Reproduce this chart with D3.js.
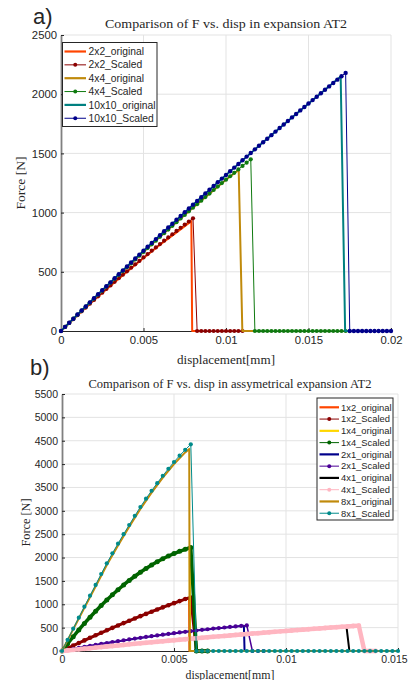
<!DOCTYPE html>
<html>
<head>
<meta charset="utf-8">
<script src="https://cdnjs.cloudflare.com/ajax/libs/d3/7.8.5/d3.min.js"></script>
<style>
body { margin: 0; background: #fff; }
svg text { font-family: "Liberation Sans", Arial, sans-serif; fill: #262626; }
svg text.serif { font-family: "Liberation Serif", "DejaVu Serif", serif; }
.grid line { stroke: #e3e3e3; stroke-width: 1; }
</style>
</head>
<body>
<svg id="chart" width="409" height="680"></svg>
<script>

// ---------- panel a: symmetric expansion ----------
var stepA = 0.00025;   // scaled runs are sampled every 0.00025 mm
var xTicksA = [0, 0.005, 0.01, 0.015, 0.02];
var xLabelsA = ['0', '0.005', '0.01', '0.015', '0.02'];
var yTicksA = [0, 500, 1000, 1500, 2000, 2500];

var f2x2Scaled = [0,34,68,101,134,166,198,230,262,293,324,355,385,415,446,475,504,534,563,592,621,650,678,706,734,763,790,817,845,872,899,925,952,
  0,0,0,0,0,0,0,0,0,0,0,0];
var f4x4Scaled = [0,35,69,104,138,172,206,240,274,308,341,375,408,441,474,506,539,571,604,636,668,700,732,763,795,826,857,888,919,950,980,1011,1041,1071,1101,1131,1161,1191,1220,1249,1278,1307,1336,1365,1394,1422,1450,
  0,0,0,0,0,0,0,0,0,0,0,0,0,0,0,0,0,0,0,0,0,0,0];
var f10x10Scaled = [0,35,70,104,139,173,207,242,276,310,344,378,411,445,479,512,545,579,612,645,678,711,744,776,809,842,874,906,939,971,1003,1035,1067,1098,1130,1162,1193,1225,1256,1287,1318,1349,1380,1411,1442,1473,1503,1534,1564,1594,1624,1654,1684,1714,1744,1774,1804,1833,1863,1892,1921,1950,1979,2008,2037,2066,2095,2123,2152,2180,
  0,0,0,0,0,0,0,0,0,0,0];

// originals: [disp, force]
var o2x2 = [[0,0],[0.001,132],[0.002,260],[0.003,382],[0.004,500],[0.005,616],[0.006,728],[0.007,833],[0.0079,928],[0.00795,0],[0.0085,0]];
var o4x4 = [[0,0],[0.002,274],[0.004,539],[0.006,795],[0.008,1041],[0.010,1278],[0.01077,1360],[0.01099,0],[0.0118,0]];
var o10x10 = [[0,0],[0.002,276],[0.004,545],[0.006,809],[0.008,1067],[0.010,1318],[0.012,1564],[0.014,1804],[0.016,2037],[0.01695,2150],[0.01722,0],[0.0175,0]];

// ---------- panel b: asymmetric expansion ----------
var stepB = 0.00025;
var xTicksB = [0, 0.005, 0.01, 0.015];
var xLabelsB = ['0', '0.005', '0.01', '0.015'];
var yTicksB = [0,500,1000,1500,2000,2500,3000,3500,4000,4500,5000,5500];

var f1x2Scaled = [0,58,115,171,227,282,336,390,443,495,546,597,647,697,746,794,841,888,934,980,1024,1068,1112,1145,0,0,0];
var f1x4Scaled = [0,155,305,450,589,723,851,974,1092,1204,1311,1413,1509,1600,1686,1766,1841,1910,1974,2033,2086,2134,2177,2214,0,0,0];
var f2x1Scaled = [0,23,45,67,89,110,131,151,171,191,210,229,247,265,283,301,318,334,350,366,382,397,411,425,439,453,466,479,491,503,515,526,537,547,0,0,0];
var f4x1Scaled = [0,12,24,36,48,60,72,84,96,107,119,130,142,153,164,175,186,197,208,219,230,241,251,262,272,283,293,303,313,323,333,343,353,363,373,382,392,401,411,420,429,439,448,457,466,475,483,492,501,509,518,526,535,543,0,0,0];
var f8x1Scaled = [0,240,478,714,948,1183,1415,1648,1877,2090,2297,2500,2696,2893,3082,3260,3430,3592,3750,3900,4045,4180,4305,4423,
  0,0,0,0,0,0,0,0,0,0,0,0,0,0,0,0,0,0,0,0,0,0,0,0,0,0,0,0,0,0,0,0,0,0,0,0,0];

var o1x2 = [[0,0],[0.001,225],[0.002,440],[0.003,643],[0.004,836],[0.005,1018],[0.00567,1135],[0.00569,0],[0.015,0]];
var o1x4 = [[0,0],[0.001,586],[0.002,1088],[0.003,1505],[0.004,1836],[0.005,2080],[0.0057,2200],[0.00572,0],[0.015,0]];
var o2x1 = [[0,0],[0.002,171],[0.004,318],[0.006,439],[0.008,537],[0.00812,540],[0.00815,0],[0.015,0]];
var o4x1 = [[0,0],[0.002,96],[0.004,186],[0.006,272],[0.008,353],[0.010,429],[0.012,501],[0.0127,523],[0.01283,0],[0.015,0]];
var o8x1 = [[0,0],[0.0005,462],[0.001,925],[0.0015,1380],[0.002,1840],[0.0025,2260],[0.003,2660],[0.0035,3040],[0.004,3390],[0.0045,3710],[0.005,4000],[0.0055,4250],[0.00568,4325],[0.0057,0],[0.015,0]];

function sampled(vals, step) {
  return vals.map(function(v, i) { return [i * step, v]; });
}

var panels = [
  {
    letter: 'a)', letterX: 33, letterY: 24,
    title: 'Comparison of F vs. disp in expansion AT2', titleY: 28, titleW: 242, titleSize: 12.5,
    xr: [61, 391], yr: [331, 35], xMax: 0.02, yMax: 2500,
    xTicks: xTicksA, xLabels: xLabelsA, yTicks: yTicksA, tickSize: 11.3,
    xlabY: 364, xlabW: 98, xlabSize: 12, ylabX: 25, ylabW: 53, ylabSize: 12,
    legend: {x: 62.5, y: 42.5, w: 94.5, h: 84, row0: 51.5, dy: 13.35, size: 10.3, lx0: 64.5, lx1: 86, tx: 88.5},
    series: [
      {name: '2x2_original', color: '#ff4500', data: o2x2, w: 2},
      {name: '2x2_Scaled', color: '#8b0000', data: sampled(f2x2Scaled, stepA), w: 1, r: 2.1},
      {name: '4x4_original', color: '#c08a0b', data: o4x4, w: 2},
      {name: '4x4_Scaled', color: '#0f7a0f', data: sampled(f4x4Scaled, stepA), w: 1, r: 2.1},
      {name: '10x10_original', color: '#008080', data: o10x10, w: 2},
      {name: '10x10_Scaled', color: '#00008b', data: sampled(f10x10Scaled, stepA), w: 1, r: 2.2}
    ]
  },
  {
    letter: 'b)', letterX: 30, letterY: 375,
    title: 'Comparison of F vs. disp in assymetrical expansion AT2', titleY: 388, titleW: 283, titleSize: 12,
    xr: [62, 398], yr: [651, 394], xMax: 0.015, yMax: 5500,
    xTicks: xTicksB, xLabels: xLabelsB, yTicks: yTicksB, tickSize: 10.5,
    xlabY: 679, xlabW: 89, xlabSize: 11.5, ylabX: 30, ylabW: 48, ylabSize: 11.5,
    legend: {x: 317, y: 398, w: 76, h: 122, row0: 407.3, dy: 11.77, size: 9.4, lx0: 319.5, lx1: 339, tx: 341},
    series: [
      {name: '1x2_original', color: '#ff4500', data: o1x2, w: 2},
      {name: '1x2_Scaled', color: '#8b0000', data: sampled(f1x2Scaled, stepB), w: 3, r: 2.3, lw: 1},
      {name: '1x4_original', color: '#ffd700', data: o1x4, w: 2},
      {name: '1x4_Scaled', color: '#006400', data: sampled(f1x4Scaled, stepB), w: 3.5, r: 2.5, lw: 1},
      {name: '2x1_original', color: '#00008b', data: o2x1, w: 2},
      {name: '2x1_Scaled', color: '#4b0096', data: sampled(f2x1Scaled, stepB), w: 1.5, r: 2.1, lw: 1},
      {name: '4x1_original', color: '#000000', data: o4x1, w: 2},
      {name: '4x1_Scaled', color: '#ffb6c1', data: sampled(f4x1Scaled, stepB), w: 4.5, r: 2.4, lw: 1},
      {name: '8x1_original', color: '#c08a0b', data: o8x1, w: 2},
      {name: '8x1_Scaled', color: '#008b8b', data: sampled(f8x1Scaled, stepB), w: 1, r: 2.1, lw: 1}
    ]
  }
];

var svg = d3.select('#chart');

panels.forEach(function(p) {
  var x = d3.scaleLinear().domain([0, p.xMax]).range(p.xr);
  var y = d3.scaleLinear().domain([0, p.yMax]).range(p.yr);
  var g = svg.append('g');

  // grid
  var grid = g.append('g').attr('class', 'grid');
  grid.selectAll('.gx').data(p.xTicks.slice(1)).enter().append('line')
    .attr('x1', function(d) { return x(d); }).attr('x2', function(d) { return x(d); })
    .attr('y1', p.yr[0]).attr('y2', p.yr[1]);
  grid.selectAll('.gy').data(p.yTicks.slice(1)).enter().append('line')
    .attr('x1', p.xr[0]).attr('x2', p.xr[1])
    .attr('y1', function(d) { return y(d); }).attr('y2', function(d) { return y(d); });

  // axes
  var ax = g.append('g').attr('transform', 'translate(0,' + p.yr[0] + ')')
    .call(d3.axisBottom(x).tickValues(p.xTicks)
      .tickFormat(function(d, i) { return p.xLabels[i]; })
      .tickSizeInner(-3).tickSizeOuter(0).tickPadding(5));
  ax.select('.domain').attr('stroke', '#262626');
  ax.selectAll('.tick line').attr('stroke', '#262626');
  ax.selectAll('text').style('font-size', p.tickSize + 'px').attr('fill', '#262626');
  // last label runs into the page edge, pull it in a little
  ax.selectAll('.tick text').filter(function(d) { return x(d) > 395; }).attr('dx', '-4');

  var ay = g.append('g').attr('transform', 'translate(' + p.xr[0] + ',0)')
    .call(d3.axisLeft(y).tickValues(p.yTicks).tickFormat(d3.format('d'))
      .tickSizeInner(-3).tickSizeOuter(0).tickPadding(4));
  ay.select('.domain').attr('stroke', '#808080').attr('stroke-width', 1.8);
  ay.selectAll('.tick line').attr('stroke', '#262626');
  ay.selectAll('text').style('font-size', p.tickSize + 'px').attr('fill', '#262626');

  // series
  var line = d3.line().x(function(d) { return x(d[0]); }).y(function(d) { return y(d[1]); });
  p.series.forEach(function(s) {
    g.append('path').datum(s.data)
      .attr('d', line).attr('fill', 'none')
      .attr('stroke', s.color).attr('stroke-width', s.w)
      .attr('stroke-linejoin', 'round');
    if (s.r) {
      g.append('g').selectAll('circle').data(s.data).enter().append('circle')
        .attr('cx', function(d) { return x(d[0]); })
        .attr('cy', function(d) { return y(d[1]); })
        .attr('r', s.r).attr('fill', s.color);
    }
  });

  // legend
  var L = p.legend;
  var lg = g.append('g');
  lg.append('rect').attr('x', L.x).attr('y', L.y).attr('width', L.w).attr('height', L.h)
    .attr('fill', '#fff').attr('stroke', '#262626').attr('stroke-width', 1);
  p.series.forEach(function(s, i) {
    var ry = L.row0 + i * L.dy;
    lg.append('line').attr('x1', L.lx0).attr('x2', L.lx1).attr('y1', ry).attr('y2', ry)
      .attr('stroke', s.color).attr('stroke-width', s.r ? (s.lw || 1) : 2.2);
    if (s.r) {
      lg.append('circle').attr('cx', (L.lx0 + L.lx1) / 2).attr('cy', ry).attr('r', 2).attr('fill', s.color);
    }
    lg.append('text').attr('x', L.tx).attr('y', ry).attr('dy', '0.35em')
      .style('font-size', L.size + 'px').text(s.name);
  });

  // titles and labels
  var cx = (p.xr[0] + p.xr[1]) / 2, cy = (p.yr[0] + p.yr[1]) / 2;
  g.append('text').attr('class', 'serif').attr('x', cx).attr('y', p.titleY)
    .attr('text-anchor', 'middle').style('font-size', p.titleSize + 'px')
    .attr('textLength', p.titleW).attr('lengthAdjust', 'spacingAndGlyphs').text(p.title);
  g.append('text').attr('class', 'serif').attr('x', cx).attr('y', p.xlabY)
    .attr('text-anchor', 'middle').style('font-size', p.xlabSize + 'px')
    .attr('textLength', p.xlabW).attr('lengthAdjust', 'spacingAndGlyphs').text('displacement[mm]');
  g.append('text').attr('class', 'serif')
    .attr('transform', 'translate(' + p.ylabX + ',' + cy + ') rotate(-90)')
    .attr('text-anchor', 'middle').style('font-size', p.ylabSize + 'px')
    .attr('textLength', p.ylabW).attr('lengthAdjust', 'spacingAndGlyphs').text('Force [N]');
  g.append('text').attr('x', p.letterX).attr('y', p.letterY)
    .style('font-size', '22px').attr('fill', '#000').text(p.letter);
});

</script>
</body>
</html>
